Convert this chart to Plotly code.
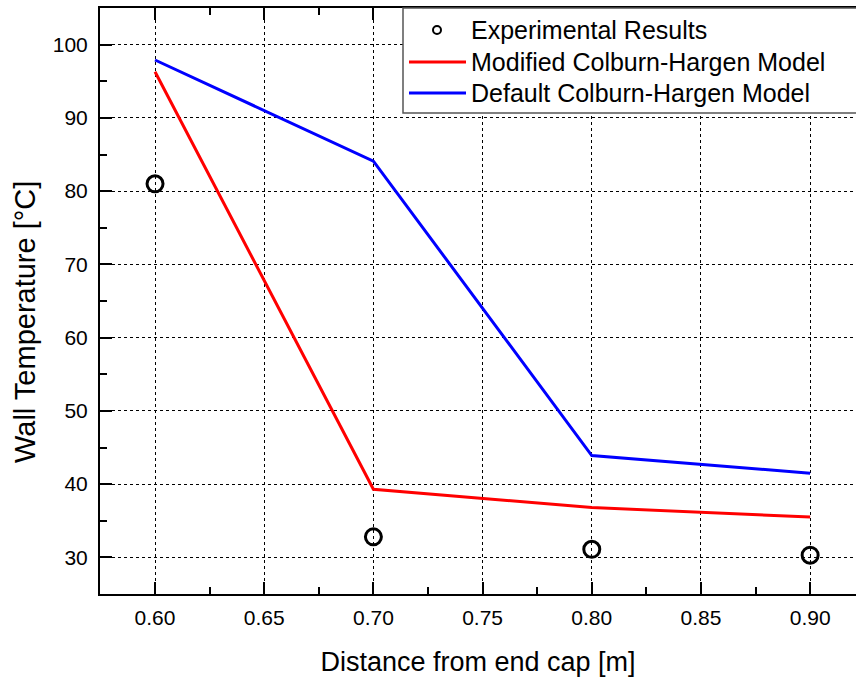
import plotly.graph_objects as go

# Data
distance = [0.60, 0.70, 0.80, 0.90]
experimental = [81.0, 32.8, 31.1, 30.3]
modified_model = [96.3, 39.3, 36.8, 35.5]
default_model = [97.9, 84.1, 43.9, 41.5]

x_ticks = [0.60, 0.65, 0.70, 0.75, 0.80, 0.85, 0.90]
y_ticks = [30, 40, 50, 60, 70, 80, 90, 100]

legend_names = ["Experimental Results", "Modified Colburn-Hargen Model", "Default Colburn-Hargen Model"]

FONT = "Liberation Sans, Arial, sans-serif"

# plot-area geometry in pixels (used for paper-coordinate conversions)
L, R, T, B = 100, 856, 8, 594
def px(xp):
    return (xp - L) / (R - L)
def py(yp):
    return (B - yp) / (B - T)

fig = go.Figure()

fig.add_trace(go.Scatter(
    x=distance, y=experimental, mode="markers", name=legend_names[0], showlegend=False,
    marker=dict(symbol="circle-open", size=16, color="black", line=dict(width=3, color="black")),
))
fig.add_trace(go.Scatter(
    x=distance, y=modified_model, mode="lines", name=legend_names[1], showlegend=False,
    line=dict(color="#FF0000", width=3),
))
fig.add_trace(go.Scatter(
    x=distance, y=default_model, mode="lines", name=legend_names[2], showlegend=False,
    line=dict(color="#0000FF", width=3),
))

axis_common = dict(
    showline=True, linecolor="black", linewidth=2,
    ticks="inside", ticklen=12, tickwidth=2, tickcolor="black",
    showgrid=True, gridcolor="black", gridwidth=1, griddash="3px,3px",
    zeroline=False, tickfont=dict(family=FONT, size=21, color="black"),
)

fig.update_xaxes(
    range=[0.5748, 0.9210], tickvals=x_ticks, ticktext=[f"{v:.2f}" for v in x_ticks],
    mirror="ticks",
    minor=dict(dtick=0.025, tick0=0.6, ticks="inside", ticklen=7, tickwidth=2, tickcolor="black", showgrid=False),
    title=dict(text="Distance from end cap [m]", font=dict(family=FONT, size=27, color="black"), standoff=24),
    ticklabelstandoff=4,
    **axis_common,
)
fig.update_yaxes(
    range=[25, 105], tickvals=y_ticks, mirror=False,
    minor=dict(dtick=5, tick0=25, ticks="inside", ticklen=7, tickwidth=2, tickcolor="black", showgrid=False),
    ticklabelstandoff=6,
    **axis_common,
)

# y-axis title, placed as in the original (slightly below centre)
fig.add_annotation(text="Wall Temperature [°C]", textangle=-90, xref="paper", yref="paper",
                   x=px(25), y=py(322), xanchor="center", yanchor="middle", showarrow=False,
                   font=dict(family=FONT, size=29, color="black"))

# legend box (extends beyond the right edge as in the original)
fig.add_shape(type="rect", xref="paper", yref="paper",
              x0=px(403), x1=1.08, y0=py(113), y1=1.0,
              line=dict(color="#555555", width=1.5), fillcolor="white", layer="above")

# legend entries
rows_y = [30, 62, 93]
fig.add_shape(type="circle", xref="paper", yref="paper",
              x0=px(433), x1=px(441), y0=py(rows_y[0] + 4), y1=py(rows_y[0] - 4),
              line=dict(color="black", width=2), fillcolor="white", layer="above")
for yrow, col in zip(rows_y[1:], ["#FF0000", "#0000FF"]):
    fig.add_shape(type="line", xref="paper", yref="paper",
                  x0=px(409), x1=px(466), y0=py(yrow), y1=py(yrow),
                  line=dict(color=col, width=3), layer="above")
for yrow, name in zip(rows_y, legend_names):
    fig.add_annotation(text=name, xref="paper", yref="paper", x=px(469), y=py(yrow),
                       xanchor="left", yanchor="middle", showarrow=False,
                       font=dict(family=FONT, size=25, color="black"))

fig.update_layout(
    width=856, height=681,
    margin=dict(l=L, r=0, t=T, b=681 - B),
    paper_bgcolor="white", plot_bgcolor="white",
    font=dict(family=FONT, color="black"),
    showlegend=False,
)

fig.write_html("out.html")
